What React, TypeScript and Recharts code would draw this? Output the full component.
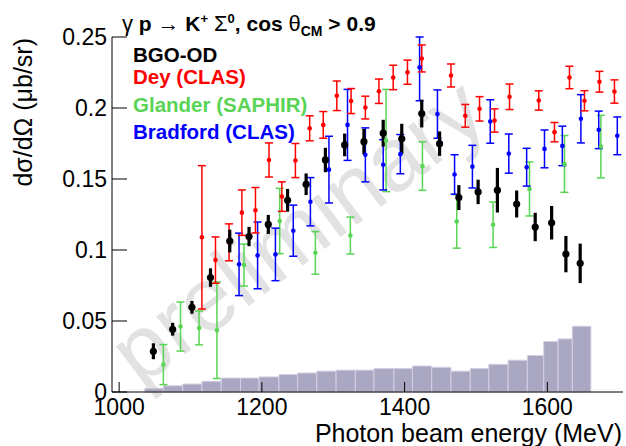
import React from "react";
import { ComposedChart, Scatter, ErrorBar, XAxis, YAxis, ReferenceArea, Legend } from "recharts";

const FONT = '"Liberation Sans", Arial, Helvetica, sans-serif';

// axes
const xDomain = [990, 1706];
const xMajorTicks = [1000, 1200, 1400, 1600];
const xMinorTicks = [1000, 1050, 1100, 1150, 1200, 1250, 1300, 1350, 1400, 1450, 1500, 1550, 1600, 1650, 1700];
const yDomain = [0, 0.25];
const yMajorTicks = [0, 0.05, 0.1, 0.15, 0.2, 0.25];
const yTickLabels = ["0", "0.05", "0.1", "0.15", "0.2", "0.25"];
const yMinorTicks = [
  0, 0.01, 0.02, 0.03, 0.04, 0.05, 0.06, 0.07, 0.08, 0.09, 0.1, 0.11, 0.12, 0.13,
  0.14, 0.15, 0.16, 0.17, 0.18, 0.19, 0.2, 0.21, 0.22, 0.23, 0.24, 0.25,
];

// BGO-OD
const bgoE = [1048, 1075, 1102, 1128, 1155, 1182, 1209, 1236, 1262, 1289, 1316, 1343, 1370, 1396, 1424, 1449, 1476, 1503, 1530, 1557, 1583, 1606, 1626, 1646];
const bgoXs = [0.0287, 0.0442, 0.0596, 0.0806, 0.1063, 0.1095, 0.118, 0.135, 0.1463, 0.1634, 0.174, 0.1763, 0.1823, 0.1783, 0.1961, 0.1749, 0.1369, 0.1409, 0.1421, 0.1324, 0.1162, 0.1192, 0.0971, 0.0906];
const bgoErr = [0.0056, 0.0045, 0.0045, 0.0065, 0.008, 0.0068, 0.0067, 0.008, 0.0076, 0.0086, 0.008, 0.009, 0.0094, 0.0106, 0.0098, 0.0086, 0.0088, 0.0086, 0.0157, 0.0095, 0.01, 0.0118, 0.0128, 0.0139];

// Dey (CLAS)
const deyE = [1116, 1135, 1154, 1172, 1191, 1210, 1228, 1247, 1267, 1286, 1305, 1325, 1345, 1364, 1384, 1404, 1424, 1465, 1485, 1505, 1526, 1547, 1588, 1610, 1631, 1652, 1673, 1694];
const deyXs = [0.1089, 0.0929, 0.1054, 0.1263, 0.128, 0.1634, 0.1376, 0.163, 0.1857, 0.1881, 0.2086, 0.2049, 0.2003, 0.2118, 0.2215, 0.2252, 0.2349, 0.2229, 0.1945, 0.1994, 0.1912, 0.2079, 0.2053, 0.183, 0.2215, 0.2051, 0.2185, 0.2116];
const deyErr = [0.0505, 0.0163, 0.013, 0.016, 0.016, 0.012, 0.0104, 0.012, 0.0088, 0.0094, 0.0104, 0.0088, 0.008, 0.0086, 0.0086, 0.0085, 0.0095, 0.0081, 0.008, 0.0086, 0.0082, 0.009, 0.0068, 0.0068, 0.0079, 0.0071, 0.0073, 0.0082];

// Glander (SAPHIR)
const glaE = [1062, 1086, 1112, 1137, 1175, 1225, 1275, 1324, 1374, 1425, 1473, 1524, 1575, 1624, 1675];
const glaXs = [0.0193, 0.0461, 0.0451, 0.0435, 0.0894, 0.1204, 0.098, 0.1102, 0.1771, 0.1591, 0.1201, 0.1178, 0.143, 0.1606, 0.1728];
const glaErr = [0.0141, 0.0173, 0.0119, 0.034, 0.0148, 0.023, 0.015, 0.013, 0.036, 0.0171, 0.0188, 0.016, 0.019, 0.02, 0.022];

// Bradford (CLAS)
const braE = [1168, 1194, 1219, 1244, 1268, 1294, 1320, 1345, 1370, 1394, 1421, 1446, 1470, 1495, 1520, 1546, 1571, 1596, 1621, 1647, 1672, 1698];
const braXs = [0.0899, 0.0962, 0.0969, 0.1136, 0.134, 0.1566, 0.1881, 0.167, 0.16, 0.1675, 0.2286, 0.1957, 0.1532, 0.1587, 0.1905, 0.1679, 0.1583, 0.1712, 0.1733, 0.1924, 0.1846, 0.1804];
const braErrLo = [0.022, 0.0235, 0.0185, 0.018, 0.017, 0.0235, 0.025, 0.019, 0.0177, 0.0138, 0.0235, 0.017, 0.0139, 0.015, 0.0153, 0.0138, 0.0133, 0.0133, 0.0139, 0.017, 0.0132, 0.0133];
const braErrHi = [0.022, 0.0235, 0.0185, 0.018, 0.017, 0.0235, 0.025, 0.019, 0.0177, 0.0138, 0.0214, 0.017, 0.0139, 0.015, 0.0153, 0.0138, 0.0133, 0.0133, 0.0139, 0.017, 0.0132, 0.0133];

// acceptance-like histogram below the data
const histEdges = [1036, 1062, 1089, 1116, 1143, 1170, 1196, 1224, 1250, 1277, 1304, 1331, 1357, 1385, 1411, 1438, 1465, 1492, 1518, 1545, 1572, 1595, 1615, 1635, 1661];
const histHeights = [0.0026, 0.0044, 0.0056, 0.0075, 0.0098, 0.0098, 0.0106, 0.0123, 0.0134, 0.0147, 0.0154, 0.0154, 0.0166, 0.0165, 0.0183, 0.0174, 0.0147, 0.0165, 0.0195, 0.0224, 0.0257, 0.0356, 0.0374, 0.0463];

const series = [
  { name: "BGO-OD", color: "#000000" },
  { name: "Dey (CLAS)", color: "#ff0000" },
  { name: "Glander (SAPHIR)", color: "#59d454" },
  { name: "Bradford (CLAS)", color: "#0000ff" },
];
const legendRowCenters = [54.7, 77, 105.3, 131.7];

const toPoints = (e: number[], v: number[], lo: number[], hi: number[]) =>
  e.map((x, i) => ({ x, y: v[i], err: [lo[i], hi[i]] }));

const bgoData = toPoints(bgoE, bgoXs, bgoErr, bgoErr);
const deyData = toPoints(deyE, deyXs, deyErr, deyErr);
const glaData = toPoints(glaE, glaXs, glaErr, glaErr);
const braData = toPoints(braE, braXs, braErrLo, braErrHi);

const dot = (r: number, color: string) => (p: any) =>
  p.cx == null ? <g /> : <circle cx={p.cx} cy={p.cy} r={r} fill={color} />;

const tickStyle = { fill: "#000", fontSize: 23, fontFamily: FONT };

function LegendBox() {
  return (
    <div style={{ position: "relative", width: 260, height: 150, fontFamily: FONT }}>
      {series.map((s, i) => (
        <div
          key={s.name}
          style={{
            position: "absolute",
            left: 0,
            top: legendRowCenters[i] - 12,
            height: 24,
            lineHeight: "24px",
            fontSize: 20.5,
            fontWeight: "bold",
            color: s.color,
            whiteSpace: "nowrap",
          }}
        >
          {s.name}
        </div>
      ))}
    </div>
  );
}

export default function App() {
  const sym = { fontWeight: "normal" as const, fontSize: 22 };
  return (
    <div style={{ position: "absolute", left: 0, top: 0, width: 626, height: 446, background: "#fff", overflow: "hidden" }}>
      <svg width={626} height={446} style={{ position: "absolute", left: 0, top: 0 }}>
        <text
          x={140}
          y={388}
          transform="rotate(-37 140 388)"
          fontSize={90}
          fontFamily={FONT}
          fill="#e2e2e2"
        >
          preliminary
        </text>
      </svg>
      <div style={{ position: "absolute", left: 0, top: 0 }}>
        <ComposedChart width={626} height={446} margin={{ top: 37, right: 3, bottom: 0, left: 52 }}>
          <XAxis
            xAxisId="xminor"
            type="number"
            dataKey="x"
            domain={xDomain}
            allowDataOverflow
            ticks={xMinorTicks}
            interval={0}
            height={0}
            tick={false}
            tickSize={-5}
            axisLine={false}
            tickLine={{ stroke: "#000" }}
          />
          <XAxis
            xAxisId="x"
            type="number"
            dataKey="x"
            domain={xDomain}
            allowDataOverflow
            ticks={xMajorTicks}
            interval={0}
            height={54}
            tick={tickStyle}
            tickSize={-10}
            tickMargin={17}
            axisLine={{ stroke: "#000" }}
            tickLine={{ stroke: "#000" }}
          />
          <XAxis xAxisId="top" orientation="top" type="number" domain={xDomain} allowDataOverflow height={0} tick={false} tickLine={false} axisLine={{ stroke: "#000" }} />
          <YAxis
            yAxisId="yminor"
            type="number"
            dataKey="y"
            domain={yDomain}
            allowDataOverflow
            ticks={yMinorTicks}
            interval={0}
            width={0}
            tick={false}
            tickSize={-8}
            axisLine={false}
            tickLine={{ stroke: "#000" }}
          />
          <YAxis
            yAxisId="y"
            type="number"
            dataKey="y"
            domain={yDomain}
            allowDataOverflow
            ticks={yMajorTicks}
            interval={0}
            width={60}
            tick={tickStyle}
            tickFormatter={(v: number) => yTickLabels[yMajorTicks.indexOf(v)] ?? String(v)}
            tickSize={-15}
            tickMargin={20}
            axisLine={{ stroke: "#000" }}
            tickLine={{ stroke: "#000" }}
          />
          <YAxis yAxisId="right" orientation="right" type="number" domain={yDomain} allowDataOverflow width={0} tick={false} tickLine={false} axisLine={{ stroke: "#000" }} />

          {histHeights.map((h, i) => (
            <ReferenceArea
              key={i}
              xAxisId="x"
              yAxisId="y"
              x1={histEdges[i]}
              x2={histEdges[i + 1]}
              y1={0}
              y2={h}
              fill="#aaa7c3"
              fillOpacity={1}
              stroke="#d2d0e0"
              strokeWidth={1}
              ifOverflow="visible"
            />
          ))}

          <Scatter name="Glander (SAPHIR)" data={glaData} xAxisId="x" yAxisId="y" fill="#59d454" shape={dot(2.3, "#59d454")} isAnimationActive={false}>
            <ErrorBar dataKey="err" direction="y" width={4} stroke="#59d454" strokeWidth={1.5} />
          </Scatter>
          <Scatter name="Bradford (CLAS)" data={braData} xAxisId="x" yAxisId="y" fill="#0000ff" shape={dot(2.3, "#0000ff")} isAnimationActive={false}>
            <ErrorBar dataKey="err" direction="y" width={4} stroke="#0000ff" strokeWidth={1.5} />
          </Scatter>
          <Scatter name="Dey (CLAS)" data={deyData} xAxisId="x" yAxisId="y" fill="#ff0000" shape={dot(2.3, "#ff0000")} isAnimationActive={false}>
            <ErrorBar dataKey="err" direction="y" width={4} stroke="#ff0000" strokeWidth={1.5} />
          </Scatter>
          <Scatter name="BGO-OD" data={bgoData} xAxisId="x" yAxisId="y" fill="#000000" shape={dot(3.6, "#000000")} isAnimationActive={false}>
            <ErrorBar dataKey="err" direction="y" width={0} stroke="#000000" strokeWidth={3.2} />
          </Scatter>

          <Legend
            layout="vertical"
            align="center"
            verticalAlign="middle"
            content={() => <LegendBox />}
            wrapperStyle={{ position: "absolute", left: 133, top: 0, width: 260, height: 150 }}
          />
        </ComposedChart>
      </div>

      <div style={{ position: "absolute", left: 122, top: 5, fontFamily: FONT, fontSize: 21, fontWeight: "bold", whiteSpace: "nowrap", lineHeight: "28px" }}>
        <span style={sym}>γ</span> p <span style={sym}>→</span> K
        <span style={{ fontSize: 13, verticalAlign: "8px" }}>+</span>{" "}
        <span style={sym}>Σ</span>
        <span style={{ fontSize: 13, verticalAlign: "8px" }}>0</span>, cos <span style={sym}>θ</span>
        <span style={{ fontSize: 14, verticalAlign: "-5px" }}>CM</span> &gt; 0.9
      </div>

      <svg width={626} height={446} style={{ position: "absolute", left: 0, top: 0, pointerEvents: "none" }}>
        <text x={622} y={442} textAnchor="end" fontSize={25} fontFamily={FONT} fill="#000">
          Photon beam energy (MeV)
        </text>
        <text x={32} y={38} textAnchor="end" transform="rotate(-90 32 38)" fontSize={25} fontFamily={FONT} fill="#000">
          dσ/dΩ (μb/sr)
        </text>
      </svg>
    </div>
  );
}
